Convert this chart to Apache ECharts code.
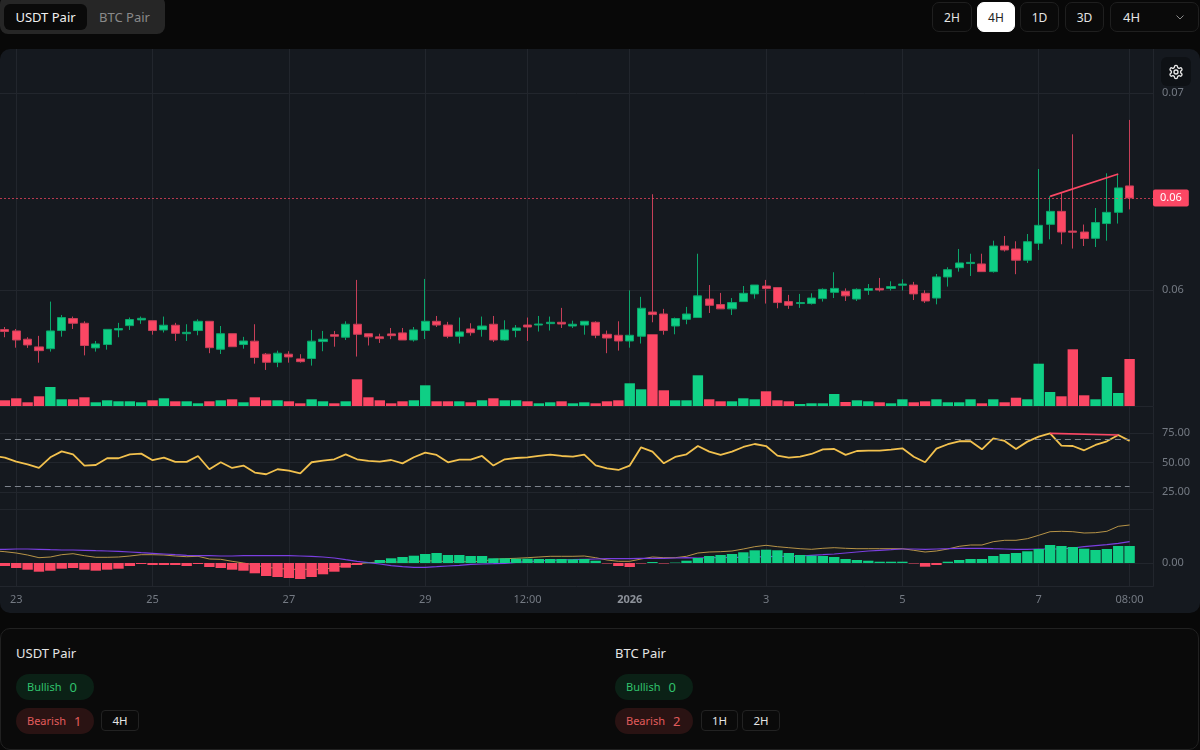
<!DOCTYPE html>
<html>
<head>
<meta charset="utf-8">
<title>USDT Pair</title>
<script src="https://cdn.jsdelivr.net/npm/echarts@6/dist/echarts.min.js"></script>
<style>
  html, body { margin: 0; width: 1200px; height: 750px; overflow: hidden; background: #080808; color: #e5e5e5; font-family: "Noto Sans", sans-serif; }
  .abs { position: absolute; box-sizing: border-box; display: flex; align-items: center; justify-content: center; }
  .tabs { left: 0; top: -4px; width: 165px; height: 38px; background: #262626; border-radius: 8px; }
  .tab { top: 4px; height: 26px; font-size: 13px; }
  .btn { top: 2px; height: 30px; font-size: 12px; border: 1px solid #1f1f1f; border-radius: 7px; background: #0a0a0a; color: #e5e5e5; }
  .btn.on { background: #fff; color: #222; border-color: #fff; }
  #chart { position: absolute; left: 0; top: 49px; width: 1200px; height: 564px; background: #15191f; border-radius: 10px; overflow: hidden; }
  .gear { left: 1161px; top: 57px; width: 30px; height: 29px; background: #0e1115; border-radius: 6px; }
  .card { position: absolute; left: 0; top: 628px; width: 1199px; height: 122px; background: #0a0a0a; border: 1px solid #212121; border-radius: 10px; box-sizing: border-box; }
  .title { position: absolute; top: 643px; font-size: 13px; line-height: 20px; color: #e5e5e5; }
  .pill { width: 78px; height: 26px; border-radius: 13px; font-size: 11px; justify-content: flex-start; padding-left: 11px; padding-bottom: 1px; }
  .pill b { font-weight: 400; font-size: 13px; margin-left: 8px; }
  .bull { background: #0b2116; color: #31c26d; }
  .bear { background: #2a1313; color: #e25c5c; }
  .chip { top: 710px; height: 21px; font-size: 11.5px; border: 1px solid #222; border-radius: 4px; background: #0a0a0a; color: #e5e5e5; }
</style>
</head>
<body>
<div class="abs tabs"></div>
<div class="abs tab" style="left:4px;width:83px;background:#0a0a0a;border-radius:6px;color:#f0f0f0">USDT Pair</div>
<div class="abs tab" style="left:87px;width:75px;color:#8a8a8a">BTC Pair</div>

<div class="abs btn" style="left:932px;width:40px">2H</div>
<div class="abs btn on" style="left:977px;width:38px">4H</div>
<div class="abs btn" style="left:1020px;width:39px">1D</div>
<div class="abs btn" style="left:1065px;width:39px">3D</div>
<div class="abs btn" style="left:1110px;width:89px;justify-content:flex-start;padding-left:12px;font-size:13px">4H
  <svg style="position:absolute;right:12px" width="12" height="12" viewBox="0 0 24 24" fill="none" stroke="#8a8a8a" stroke-width="2"><path d="m5 9 7 7 7-7"/></svg>
</div>

<div id="chart"></div>
<div class="abs gear">
  <svg width="16" height="16" viewBox="0 0 24 24" fill="none" stroke="#e8e8e8" stroke-width="2" stroke-linecap="round" stroke-linejoin="round"><path d="M12.22 2h-.44a2 2 0 0 0-2 2v.18a2 2 0 0 1-1 1.73l-.43.25a2 2 0 0 1-2 0l-.15-.08a2 2 0 0 0-2.73.73l-.22.38a2 2 0 0 0 .73 2.73l.15.1a2 2 0 0 1 1 1.72v.51a2 2 0 0 1-1 1.74l-.15.09a2 2 0 0 0-.73 2.73l.22.38a2 2 0 0 0 2.73.73l.15-.08a2 2 0 0 1 2 0l.43.25a2 2 0 0 1 1 1.73V20a2 2 0 0 0 2 2h.44a2 2 0 0 0 2-2v-.18a2 2 0 0 1 1-1.73l.43-.25a2 2 0 0 1 2 0l.15.08a2 2 0 0 0 2.73-.73l.22-.39a2 2 0 0 0-.73-2.73l-.15-.08a2 2 0 0 1-1-1.74v-.5a2 2 0 0 1 1-1.74l.15-.09a2 2 0 0 0 .73-2.73l-.22-.38a2 2 0 0 0-2.73-.73l-.15.08a2 2 0 0 1-2 0l-.43-.25a2 2 0 0 1-1-1.73V4a2 2 0 0 0-2-2z"/><circle cx="12" cy="12" r="3"/></svg>
</div>

<div class="card"></div>
<div class="title" style="left:16px">USDT Pair</div>
<div class="abs pill bull" style="left:16px;top:674px">Bullish<b>0</b></div>
<div class="abs pill bear" style="left:16px;top:708px">Bearish<b>1</b></div>
<div class="abs chip" style="left:101px;width:38px">4H</div>

<div class="title" style="left:615px">BTC Pair</div>
<div class="abs pill bull" style="left:615px;top:674px">Bullish<b>0</b></div>
<div class="abs pill bear" style="left:615px;top:708px">Bearish<b>2</b></div>
<div class="abs chip" style="left:701px;width:37px">1H</div>
<div class="abs chip" style="left:742px;width:38px">2H</div>

<script>
// prices are written in 1e-5 units
const opens = [
  5799,5792,5750,5711,5702,5794,5855,5831,5706,5723,
  5797,5819,5848,5844,5797,5821,5778,5794,5841,5699,
  5778,5723,5740,5674,5633,5674,5650,5652,5738,5773,
  5760,5826,5778,5762,5777,5782,5746,5794,5841,5822,
  5765,5802,5799,5826,5746,5794,5822,5822,5829,5836,
  5817,5822,5836,5775,5770,5741,5765,5888,5878,5817,
  5851,5860,5954,5926,5904,5941,5980,6020,6012,5941,
  5931,5931,5956,5988,5993,5954,5998,6008,6008,6024,
  6025,5983,5959,6066,6113,6134,6132,6093,6223,6208,
  6151,6237,6333,6399,6299,6294,6262,6337,6394,6528
];
const closes = [
  5789,5746,5721,5692,5792,5860,5831,5718,5726,5800,
  5804,5850,5856,5794,5821,5780,5785,5841,5707,5778,
  5712,5741,5657,5633,5679,5660,5636,5740,5750,5765,
  5826,5775,5762,5753,5768,5746,5797,5841,5822,5765,
  5787,5783,5817,5746,5797,5807,5812,5827,5836,5827,
  5826,5841,5770,5756,5741,5770,5907,5875,5794,5855,
  5878,5970,5922,5904,5936,5983,6025,6007,5936,5922,
  5936,5959,6003,6008,5970,6003,6007,6000,6017,6030,
  5980,5944,6066,6103,6137,6140,6093,6223,6203,6151,
  6245,6328,6399,6294,6293,6261,6342,6394,6518,6467
];
const lows = [
  5760,5707,5706,5631,5687,5763,5802,5668,5687,5697,
  5760,5797,5828,5773,5784,5741,5741,5770,5679,5675,
  5712,5702,5626,5594,5608,5631,5631,5616,5689,5712,
  5746,5662,5718,5731,5750,5746,5738,5751,5812,5755,
  5728,5768,5763,5736,5741,5760,5741,5789,5794,5807,
  5807,5773,5755,5679,5692,5707,5728,5836,5773,5775,
  5826,5860,5883,5904,5873,5941,5956,5931,5907,5904,
  5909,5926,5941,5959,5944,5944,5975,5992,5997,5997,
  5949,5934,5927,6017,6093,6071,6093,6088,6195,6080,
  6137,6203,6257,6232,6210,6223,6218,6250,6337,6409
];
const highs = [
  5812,5802,5760,5767,5941,5873,5865,5841,5741,5800,
  5833,5860,5865,5844,5865,5833,5826,5851,5841,5817,
  5778,5762,5826,5680,5692,5689,5674,5797,5792,5792,
  5841,6051,5778,5778,5807,5807,5812,6056,5868,5838,
  5860,5831,5865,5868,5846,5822,5860,5868,5865,5909,
  5844,5841,5841,5794,5841,5998,5965,6486,5904,5860,
  5914,6184,6025,5985,5959,6020,6025,6051,6012,5975,
  5980,5983,6008,6090,6008,6008,6030,6061,6044,6054,
  6041,5998,6081,6115,6208,6184,6184,6250,6274,6247,
  6284,6614,6475,6491,6790,6332,6416,6592,6589,6863
];
const volumes = [
  5.7,7.7,3.7,9.7,19,6.7,6.7,8.7,3.7,5.7,
  4.7,4.7,3.7,5.7,7.7,4.7,4.7,2.7,4.7,5.7,
  6.7,3.7,8.7,5.7,5.7,4.7,2.7,6.7,4.7,2.7,
  4.7,26.7,8.7,5.7,2.7,4.7,5.7,20.7,4.7,4.7,
  4.7,3.7,5.7,7.7,5.7,5.7,4.7,2.7,3.7,4.7,
  2.7,3.7,2.7,4.7,5.7,22.7,16.7,71.7,15.7,5.7,
  5.7,30.7,6.7,4.7,4.7,7.7,6.7,14.7,5.7,4.7,
  2,2.7,2.7,12,4,5.7,4.7,3.7,2.7,6.7,
  3.7,4.7,6.7,3.7,3.7,6.7,2.7,6.7,3.7,8.3,
  6.7,42.3,14,9.7,56.7,10.7,6.7,29,13,47
];
// rsi, macd lines start one bar before the first candle
const rsi = [
  55.6,54.2,50.8,48.6,45.5,54.5,59.5,57.0,47.5,48.0,53.7,
  53.7,57.0,57.6,52.0,54.2,50.6,50.6,55.6,44.4,50.3,
  45.5,47.5,41.6,40.2,44.4,43.3,41.0,50.3,51.7,52.8,
  57.0,52.8,51.4,50.8,52.2,49.4,54.5,58.4,56.5,50.3,
  52.5,52.5,55.6,47.5,52.8,53.9,54.5,55.6,56.7,55.6,
  55.0,56.7,47.7,45.2,43.8,47.5,62.9,59.3,49.4,54.8,
  57.0,64.0,59.3,56.5,59.3,63.2,65.7,64.0,55.9,54.2,
  55.0,57.3,61.2,61.5,56.5,59.8,60.1,60.1,61.0,62.1,
  55.0,50.3,61.8,65.5,68.0,68.0,61.2,70.5,68.3,61.5,
  67.7,71.9,74.7,64.3,64.0,60.4,64.9,68.0,73.3,68.3
];
const dif = [
  12.3,11.3,10,8,5.3,6,8.3,9.3,7.3,5.7,5.7,
  6,7,8.3,8.3,8,7,6.3,6.7,4,3.7,
  1.7,0,-2,-4.3,-5.3,-6.3,-6.3,-6.3,-6.3,-4.7,
  -2,-0.7,0.3,1,1.3,0.7,1.3,2.3,2,1.3,
  1.3,1.3,1.7,3.7,4.3,4.7,5.3,6,6.7,6.7,
  6.7,7,5.3,3,1.7,1.7,4,6,5.3,5.3,
  6.7,10,11,11.3,12,14,16.3,17.7,16.3,15.3,
  14.3,13.7,14.7,15.3,14.7,14.3,14.3,14.3,14.3,14.3,
  12.7,11,12,14,16.7,18,18,21.3,22.7,22.7,
  24.3,27.7,31.3,31.7,31.3,30,30.3,31.7,36.7,38
];
const dea = [
  13.3,13.7,14,14,13.7,13.3,13,13,12.7,12.3,12,
  11.7,11,10.3,9.7,9,8.3,7.7,7.3,7.3,7,
  7,7.3,7.3,7.3,7.3,7.3,7,6.7,6,5,
  3.3,1.7,0.3,-1,-2.7,-3.7,-4.3,-4.3,-3.7,-3,
  -2.3,-1.3,-1,-0.7,-0.3,0.7,1.3,2,2.7,3,
  3.3,3.7,4,4.3,4.3,4.3,4.7,4.7,4.7,5,
  5.3,5,5.3,5.3,5.7,5.7,6,6.3,6.7,6.7,
  7,7.7,8.3,9,10,11,12,12.7,13.3,14,
  14,13.7,14,14.3,14.7,14.7,14.7,14.3,14,13.7,
  13.7,14,14,14,15,16.3,17.3,18.3,19.7,21.3
];
const hist = [
  -3,-5,-6.7,-8.7,-7.7,-5.7,-5,-6.7,-7.7,-6.7,
  -5.7,-3,-1,-2,-2,-2,-3,-1,-4,-5,
  -6.7,-7.7,-10.3,-13,-14,-15,-16,-14,-11.3,-8.7,
  -4.7,-2,0.3,3,4.7,6,7.3,9,10,8,
  8,7,7,4.7,4.7,4.3,4.3,4,4,4,
  3.7,4,2.3,-0.5,-3,-4,-0.5,1,-0.5,0.4,
  2.3,5,7,8,9,10.7,12.7,13.3,12.7,10,
  8,7.3,7,6,4,3,2.3,1.3,1.3,1.3,
  -0.5,-3.7,-2,1.3,3,4,4,7,9,10,
  11.7,14,18,17,16,14.3,13,14,17,17
];

const tickBars = [1, 13, 25, 37, 46, 55, 67, 79, 91, 99];
const tickLabels = ["23", "25", "27", "29", "12:00", "2026", "3", "5", "7", "08:00"];
const priceTicks = [0.06, 0.07];
const rsiTicks = [25, 50, 75];
const rsiBands = [70, 30];
const divergenceBars = [92, 98];
const divergencePrice = [0.06475, 0.06589];
const divergenceRsi = [74.7, 73.3];

const UP = "#0fcf85";
const DOWN = "#fb4764";
const UP_WICK = "#0ba56b";
const DOWN_WICK = "#c63f58";
const GRID = "#22262d";
const LABEL = "#747a83";
const FONT = "Noto Sans";

const lastClose = closes[closes.length - 1] / 1e5;
const candleData = opens.map((o, i) => [i, o / 1e5, closes[i] / 1e5, lows[i] / 1e5, highs[i] / 1e5]);
const volumeData = volumes.map((v, i) => ({
  value: [i, v],
  itemStyle: { color: closes[i] >= opens[i] ? UP : DOWN }
}));
const histData = hist.map((v, i) => ({
  value: [i, v],
  itemStyle: { color: v >= 0 ? UP : DOWN }
}));
const lineData = (arr) => arr.map((v, i) => [i - 1, v]);

const makeXAxis = (gridIndex, showLabel) => ({
  type: "value",
  gridIndex: gridIndex,
  min: -0.43,
  max: 101.06,
  axisLine: { show: true, onZero: false, lineStyle: { color: GRID } },
  axisTick: { show: false, customValues: tickBars },
  splitLine: { show: true, lineStyle: { color: GRID } },
  axisLabel: {
    show: showLabel,
    customValues: tickBars,
    margin: 8,
    color: LABEL,
    fontFamily: FONT,
    fontSize: 11,
    formatter: (v) => {
      const text = tickLabels[tickBars.indexOf(v)];
      return text === "2026" ? "{b|2026}" : text;
    },
    rich: { b: { fontWeight: "bold", color: "#8d929a", fontFamily: FONT, fontSize: 11 } }
  }
});

const makeYAxis = (gridIndex, min, max, ticks) => ({
  type: "value",
  gridIndex: gridIndex,
  position: "right",
  min: min,
  max: max,
  axisLine: { show: true, onZero: false, lineStyle: { color: GRID } },
  axisTick: { show: false, customValues: ticks },
  splitLine: { show: true, lineStyle: { color: GRID } },
  axisLabel: {
    customValues: ticks,
    margin: 9,
    padding: [4, 0, 0, 0],
    color: LABEL,
    fontFamily: FONT,
    fontSize: 11,
    formatter: (v) => v.toFixed(2)
  }
});

const chart = echarts.init(document.getElementById("chart"));
chart.setOption({
  animation: false,
  backgroundColor: "transparent",
  grid: [
    { left: 0, top: 0, width: 1153, height: 357 },
    { left: 0, top: 358, width: 1153, height: 102.7 },
    { left: 0, top: 461, width: 1153, height: 76.3 }
  ],
  xAxis: [makeXAxis(0, false), makeXAxis(1, false), makeXAxis(2, true)],
  yAxis: [
    makeYAxis(0, 0.05411, 0.07223, priceTicks),
    { type: "value", gridIndex: 0, min: 0, max: 357, show: false },
    makeYAxis(1, 10.3, 96.9, rsiTicks),
    makeYAxis(2, -23.3, 53, [0])
  ],
  series: [
    {
      type: "bar",
      name: "Volume",
      xAxisIndex: 0,
      yAxisIndex: 1,
      barWidth: 10.4,
      data: volumeData,
      z: 2
    },
    {
      type: "candlestick",
      name: "Price",
      xAxisIndex: 0,
      yAxisIndex: 0,
      barWidth: 8.6,
      encode: { x: 0, y: [1, 2, 3, 4] },
      itemStyle: { color: UP, color0: DOWN, borderColor: UP_WICK, borderColor0: DOWN_WICK, borderWidth: 1 },
      data: candleData,
      z: 3,
      markLine: {
        silent: true,
        symbol: "none",
        precision: 5,
        lineStyle: { color: "rgba(251,71,100,0.7)", type: [2, 2], width: 1 },
        label: {
          position: "end",
          distance: 0,
          formatter: (p) => p.value.toFixed(2),
          color: "#fff",
          backgroundColor: DOWN,
          padding: [3, 7],
          borderRadius: 2,
          fontFamily: FONT,
          fontSize: 11
        },
        data: [{ yAxis: lastClose }]
      }
    },
    {
      type: "line",
      name: "Divergence",
      xAxisIndex: 0,
      yAxisIndex: 0,
      symbol: "none",
      lineStyle: { color: DOWN, width: 1.6 },
      data: divergenceBars.map((b, i) => [b, divergencePrice[i]]),
      z: 4
    },
    {
      type: "line",
      name: "RSI",
      xAxisIndex: 1,
      yAxisIndex: 2,
      symbol: "none",
      lineStyle: { color: "#f2c14e", width: 1.8 },
      data: lineData(rsi),
      z: 3,
      markLine: {
        silent: true,
        symbol: "none",
        label: { show: false },
        lineStyle: { color: "#7d838c", type: [6, 4], width: 1 },
        data: rsiBands.map((v) => [{ coord: [0, v] }, { coord: [99, v] }])
      }
    },
    {
      type: "line",
      name: "RSI divergence",
      xAxisIndex: 1,
      yAxisIndex: 2,
      symbol: "none",
      lineStyle: { color: DOWN, width: 1.6 },
      data: divergenceBars.map((b, i) => [b, divergenceRsi[i]]),
      z: 4
    },
    {
      type: "line",
      name: "DIF",
      xAxisIndex: 2,
      yAxisIndex: 3,
      symbol: "none",
      lineStyle: { color: "#d4a94f", width: 1, opacity: 0.85 },
      data: lineData(dif),
      z: 1
    },
    {
      type: "line",
      name: "DEA",
      xAxisIndex: 2,
      yAxisIndex: 3,
      symbol: "none",
      lineStyle: { color: "#7a3fe0", width: 1.2 },
      data: lineData(dea),
      z: 1
    },
    {
      type: "bar",
      name: "MACD",
      xAxisIndex: 2,
      yAxisIndex: 3,
      barWidth: 10.4,
      data: histData,
      z: 2
    }
  ]
});
</script>
</body>
</html>
